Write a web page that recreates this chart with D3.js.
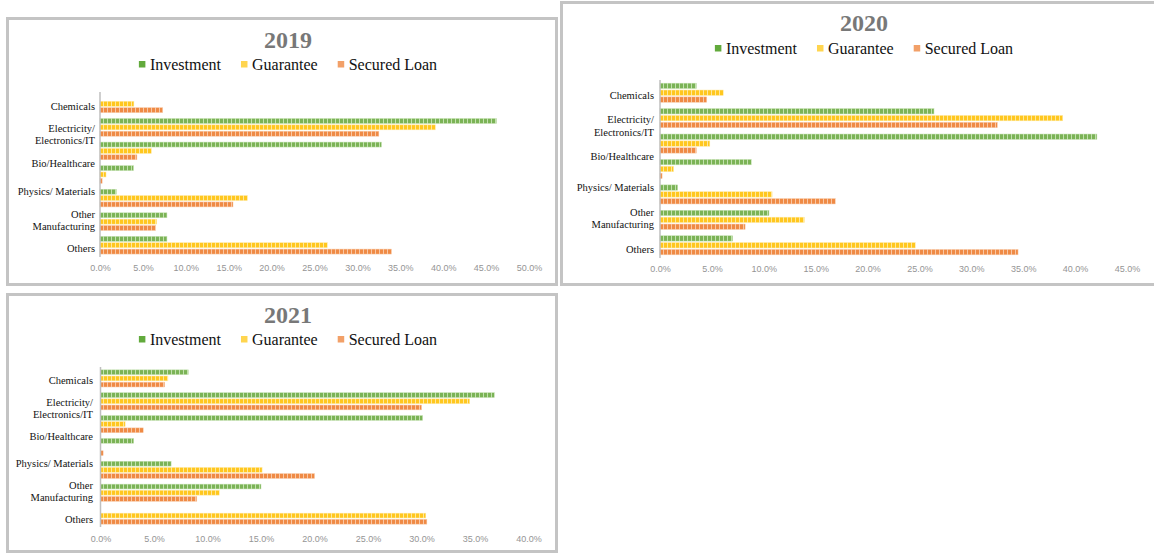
<!DOCTYPE html>
<html>
<head>
<meta charset="utf-8">
<script src="https://cdn.jsdelivr.net/npm/d3@7"></script>
<style>
  body { margin: 0; background: #fff; }
  svg { display: block; }
</style>
</head>
<body>
<div id="chart"></div>
<script>
// Chart data (shares in %)
const seriesNames = ["Investment", "Guarantee", "Secured Loan"];
const categoryLabels = [
  ["Chemicals"],
  ["Electricity/", "Electronics/IT"],
  ["Bio/Healthcare"],
  ["Physics/ Materials"],
  ["Other", "Manufacturing"],
  ["Others"]
];
// the bars come in seven groups, although only six labels are shown
const barGroups = ["g1", "g2", "g3", "g4", "g5", "g6", "g7"];

const investment2019 = [0, 46.2, 32.8, 3.9, 1.9, 7.8, 7.8];
const guarantee2019 = [3.95, 39.1, 6.0, 0.7, 17.2, 6.6, 26.5];
const securedLoan2019 = [7.3, 32.5, 4.3, 0.25, 15.5, 6.5, 34.0];

const investment2020 = [3.5, 26.4, 42.1, 8.8, 1.7, 10.5, 7.0];
const guarantee2020 = [6.1, 38.8, 4.8, 1.3, 10.8, 13.9, 24.6];
const securedLoan2020 = [4.5, 32.5, 3.5, 0.2, 16.9, 8.2, 34.5];

const investment2021 = [8.2, 36.8, 30.1, 3.1, 6.6, 15.0, 0];
const guarantee2021 = [6.3, 34.5, 2.3, 0, 15.1, 11.1, 30.4];
const securedLoan2021 = [6.0, 30.0, 4.0, 0.25, 20.0, 9.0, 30.5];

const xMax2019 = 50, xMax2020 = 45, xMax2021 = 40;
const tickStep = 5;

// colours
const darkColor = {"Investment": "#7bb356", "Guarantee": "#ffc71f", "Secured Loan": "#ef8a45"};
const lightColor = {"Investment": "#c2e0ae", "Guarantee": "#ffe79c", "Secured Loan": "#f8c7a4"};
const legendColor = {"Investment": "#62aa3c", "Guarantee": "#ffd54f", "Secured Loan": "#f2a068"};

const svg = d3.select("#chart")
  .append("svg")
  .attr("width", 1154)
  .attr("height", 555);

// stripe patterns for the bars
const defs = svg.append("defs");
seriesNames.forEach((s, i) => {
  const pat = defs.append("pattern")
    .attr("id", "pat" + i)
    .attr("patternUnits", "userSpaceOnUse")
    .attr("width", 4)
    .attr("height", 8);
  pat.append("rect").attr("width", 4).attr("height", 8).attr("fill", lightColor[s]);
  pat.append("rect").attr("width", 3).attr("height", 8).attr("fill", darkColor[s]);
});

// panel layout
const panels = [
  { year: "2019", values: [investment2019, guarantee2019, securedLoan2019], xMax: xMax2019,
    box: [6, 17, 552, 269], cx: 288, titleY: 40, legendY: 64,
    left: 100, right: 529, top: 92, bottom: 257, tickY: 270, labelX: 95 },
  { year: "2020", values: [investment2020, guarantee2020, securedLoan2020], xMax: xMax2020,
    box: [560, 1, 600, 285], cx: 864, titleY: 23, legendY: 48,
    left: 660, right: 1127, top: 80, bottom: 258, tickY: 271, labelX: 654 },
  { year: "2021", values: [investment2021, guarantee2021, securedLoan2021], xMax: xMax2021,
    box: [6, 293, 552, 260], cx: 288, titleY: 315, legendY: 339,
    left: 100.5, right: 528.5, top: 367, bottom: 527, tickY: 541, labelX: 93 }
];

function drawPanel(p) {
  const g = svg.append("g");

  // frame
  g.append("rect")
    .attr("x", p.box[0] + 1.5)
    .attr("y", p.box[1] + 1.5)
    .attr("width", p.box[2] - 3)
    .attr("height", p.box[3] - 3)
    .attr("fill", "#fff")
    .attr("stroke", "#c4c4c4")
    .attr("stroke-width", 3);

  // title
  g.append("text")
    .attr("x", p.cx)
    .attr("y", p.titleY + 8)
    .attr("text-anchor", "middle")
    .style("font-family", "'Liberation Serif', 'Times New Roman', serif")
    .style("font-weight", "bold")
    .style("font-size", "24px")
    .attr("fill", "#787878")
    .text(p.year);

  // legend, centred on p.cx
  const legend = g.append("g");
  let lx = 0;
  seriesNames.forEach((s) => {
    const item = legend.append("g").attr("transform", `translate(${lx},0)`);
    item.append("rect")
      .attr("x", 0)
      .attr("y", p.legendY - 3)
      .attr("width", 6.5)
      .attr("height", 6.5)
      .attr("fill", legendColor[s]);
    const t = item.append("text")
      .attr("x", 11)
      .attr("y", p.legendY + 5.5)
      .style("font-family", "'Liberation Serif', 'Times New Roman', serif")
      .style("font-size", "16px")
      .attr("fill", "#111")
      .text(s);
    lx += 11 + t.node().getComputedTextLength() + 20;
  });
  const legendWidth = lx - 20;
  legend.attr("transform", `translate(${p.cx - legendWidth / 2},0)`);

  // scales
  const x = d3.scaleLinear().domain([0, p.xMax]).range([p.left, p.right]);
  const y0 = d3.scaleBand()
    .domain(barGroups)
    .range([p.top, p.bottom])
    .paddingInner(0.25)
    .paddingOuter(0.125);
  const y1 = d3.scaleBand()
    .domain(seriesNames)
    .range([0, y0.bandwidth()])
    .paddingInner(0.22);
  const step = (p.bottom - p.top) / barGroups.length;
  const yLabel = d3.scalePoint()
    .domain(d3.range(categoryLabels.length))
    .range([p.top + 0.6 * step, p.top + 6.66 * step]);

  // bars
  const groupSel = g.selectAll(".grp")
    .data(barGroups)
    .enter()
    .append("g")
    .attr("transform", d => `translate(0,${y0(d)})`);

  groupSel.selectAll("rect")
    .data((d, i) => seriesNames.map((s, j) => ({ s: s, j: j, v: p.values[j][i] })))
    .enter()
    .append("rect")
    .attr("x", x(0))
    .attr("y", d => y1(d.s))
    .attr("width", d => x(d.v) - x(0))
    .attr("height", y1.bandwidth())
    .attr("fill", d => `url(#pat${d.j})`)
    .attr("stroke", d => lightColor[d.s])
    .attr("stroke-width", 0.5);

  // vertical axis line
  g.append("line")
    .attr("x1", x(0)).attr("x2", x(0))
    .attr("y1", p.top).attr("y2", p.bottom)
    .attr("stroke", "#bfbfbf")
    .attr("stroke-width", 1.5);

  // x axis tick labels
  const bottomAxis = d3.axisBottom(x)
    .tickValues(d3.range(0, p.xMax + 0.01, tickStep))
    .tickFormat(d => d.toFixed(1) + "%")
    .tickSize(0)
    .tickPadding(0);
  const xAxis = g.append("g")
    .attr("transform", `translate(0,${p.tickY - 5})`)
    .call(bottomAxis);
  xAxis.select(".domain").remove();
  xAxis.selectAll("text")
    .style("font-family", "'Liberation Sans', Arial, sans-serif")
    .style("font-size", "9px")
    .attr("fill", "#959595");

  // category labels
  const labels = g.selectAll(".cat")
    .data(categoryLabels)
    .enter()
    .append("text")
    .attr("text-anchor", "end")
    .style("font-family", "'Liberation Serif', 'Times New Roman', serif")
    .style("font-size", "10.5px")
    .attr("fill", "#111");
  labels.each(function (lines, i) {
    const t = d3.select(this);
    const lineH = 12.5;
    const y = yLabel(i) - (lines.length - 1) * lineH / 2 + 3.5;
    lines.forEach((ln, k) => {
      t.append("tspan")
        .attr("x", p.labelX)
        .attr("y", y + k * lineH)
        .text(ln);
    });
  });
}

panels.forEach(drawPanel);
</script>
</body>
</html>
